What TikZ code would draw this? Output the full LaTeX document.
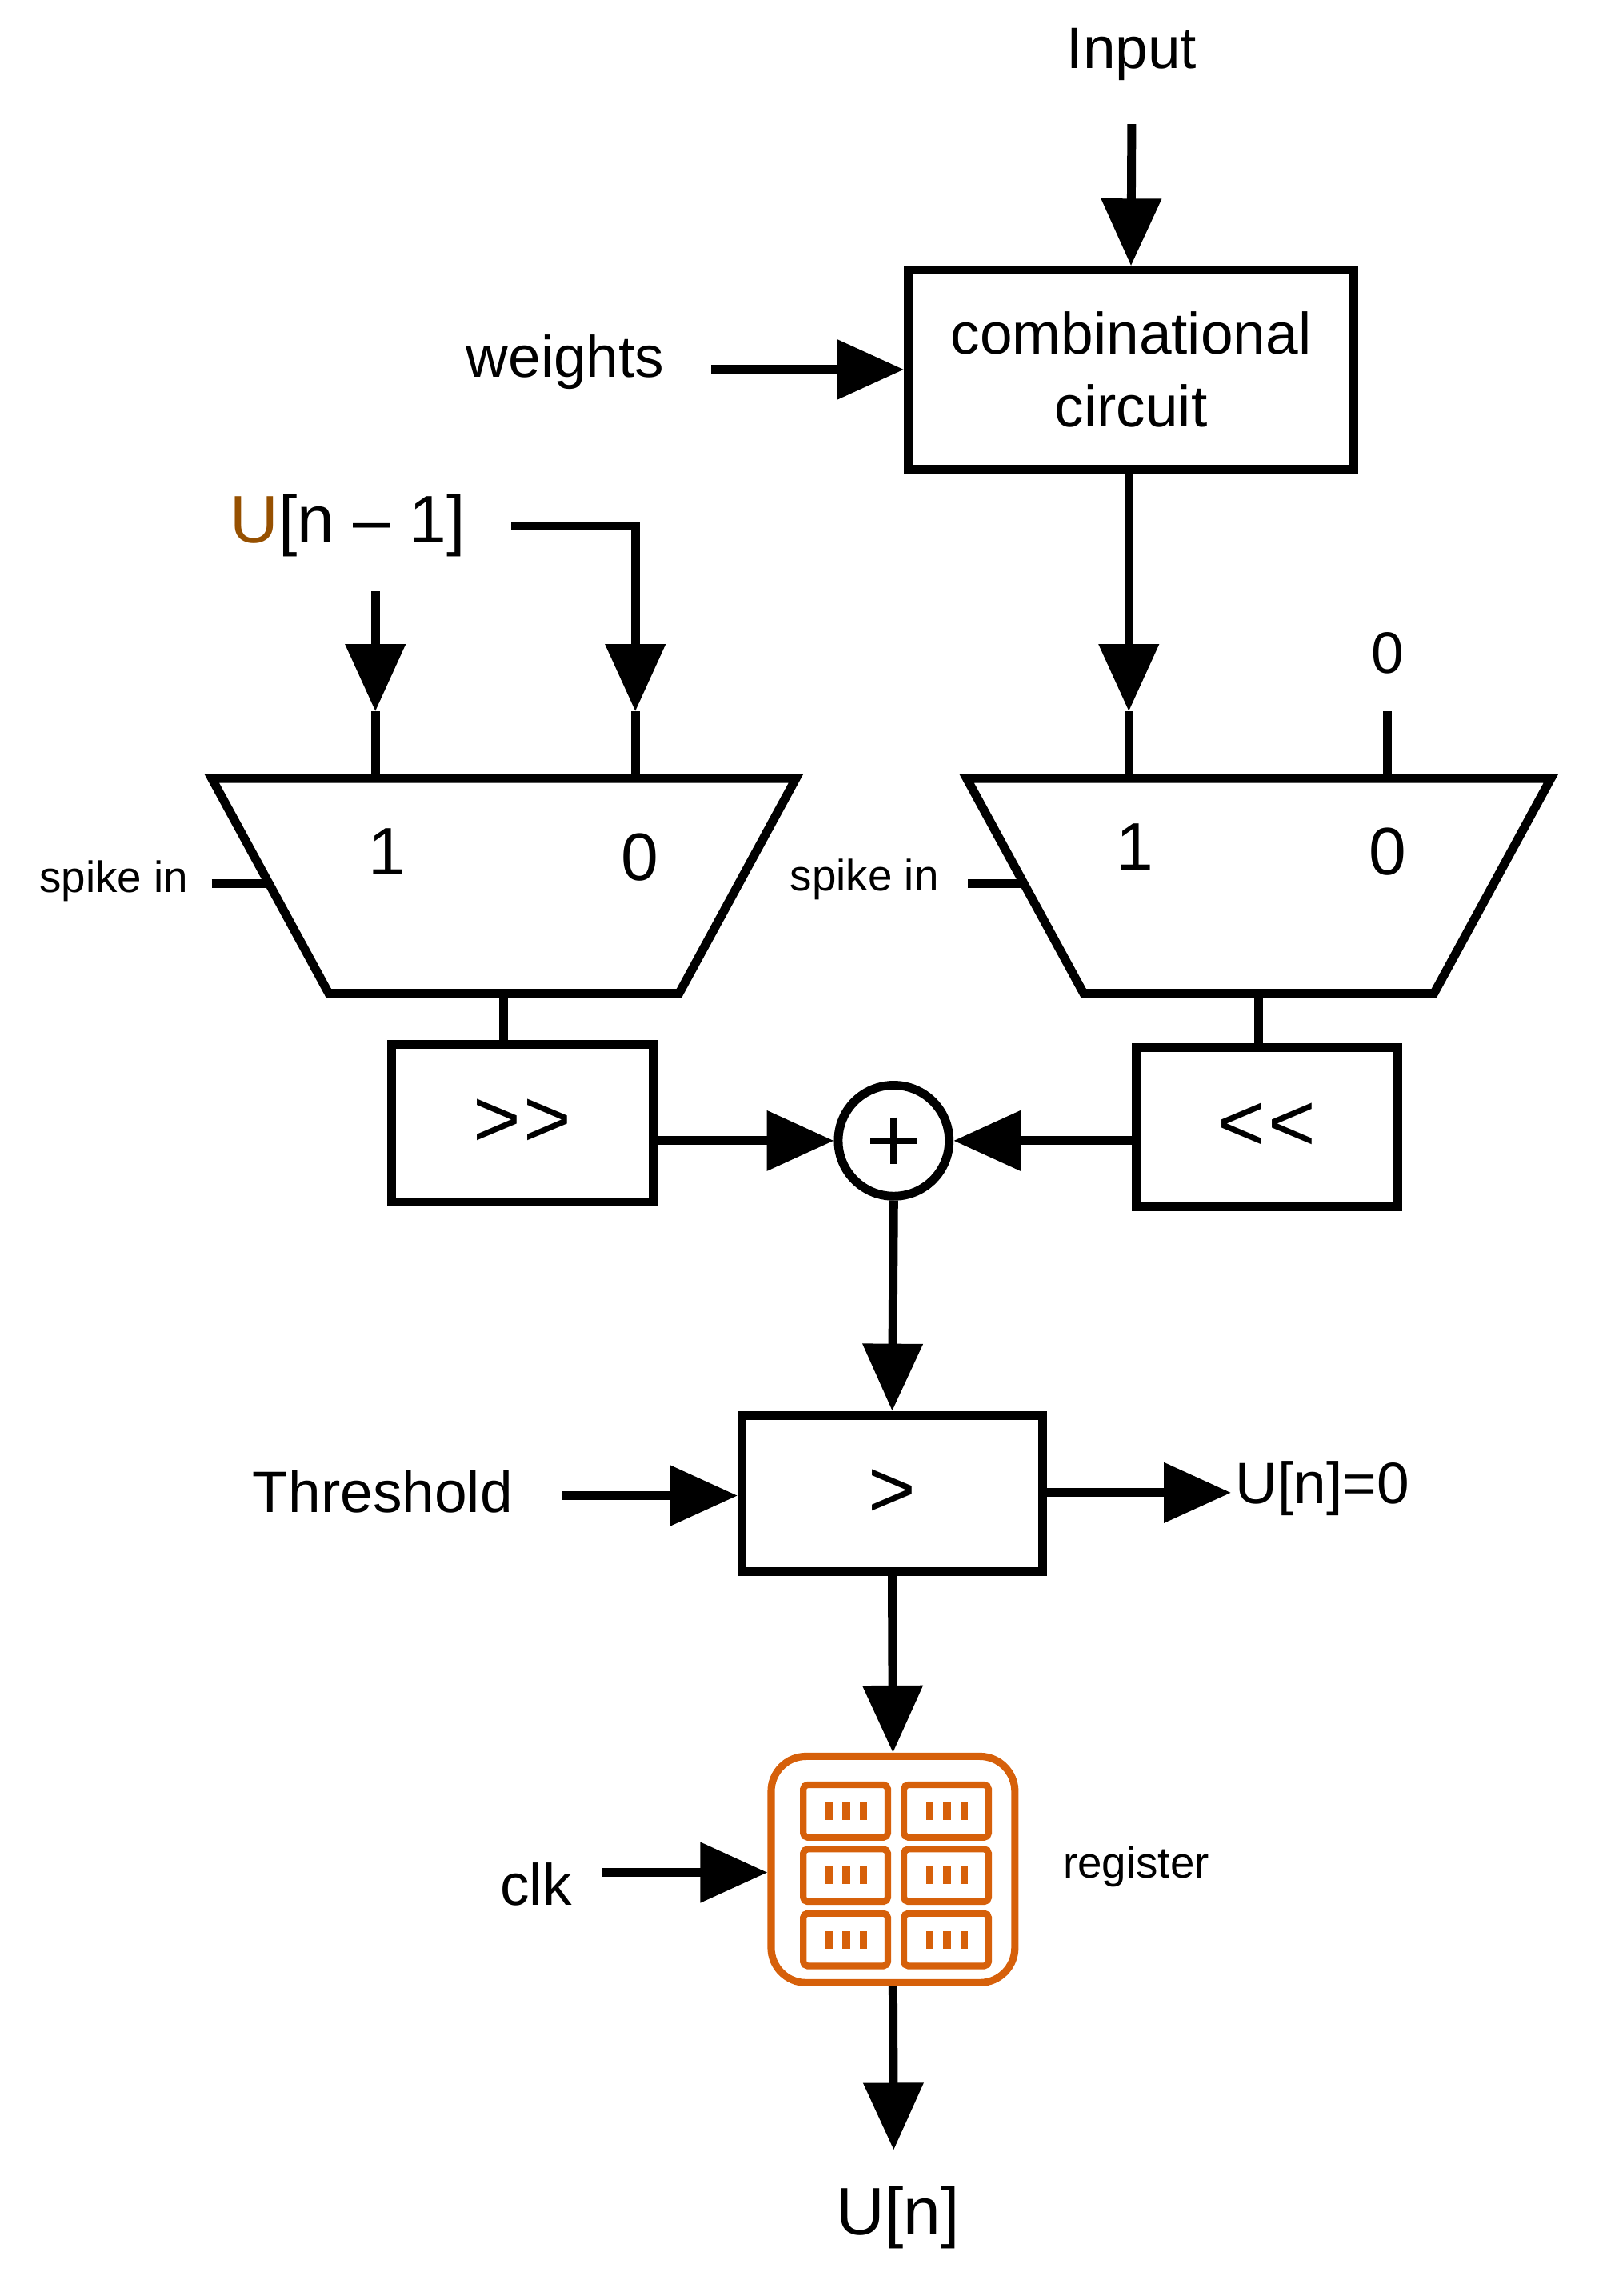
\documentclass[tikz,border=0pt]{standalone}
\usepackage{fontspec}
\setmainfont{Liberation Sans}
\usetikzlibrary{arrows.meta}
\definecolor{regor}{RGB}{214,96,10}
\definecolor{uor}{RGB}{150,80,0}
\begin{document}
\begin{tikzpicture}[x=1pt,y=-1pt,
  line width=6pt,
  arr/.style={-{Triangle[length=46pt,width=40pt]}},
  box/.style={draw,line width=6pt,inner sep=0pt},
  lbl/.style={font=\fontsize{40}{46}\selectfont,inner sep=0pt},
  big/.style={font=\fontsize{46}{50}\selectfont,inner sep=0pt},
  sml/.style={font=\fontsize{30}{34}\selectfont,inner sep=0pt}]
\useasboundingbox (0,0) rectangle (1100,1572);
% top
\node[lbl] (input) at (775,37) {Input};
\coordinate (inS) at (775,85);
\node[box,minimum width=305pt,minimum height=136pt,align=center,font=\fontsize{40}{50}\selectfont] (comb) at (774.5,253) {combinational\\circuit};
\draw[arr] (inS) -- (comb.north);
\node[lbl] (w) at (387,248) {weights};
\coordinate (wS) at (487,253);
\draw[arr] (wS) -- (comb.west |- wS);
% U[n-1]
\node[lbl,font=\fontsize{46}{50}\selectfont] (un1) at (238,360) {\textcolor{uor}{U}[n – 1]};
\coordinate (uS) at (350,360);
\coordinate (uA) at (257,405);
% left mux
\coordinate (L1) at (145,533); \coordinate (L2) at (545,533);
\coordinate (L3) at (465,680); \coordinate (L4) at (225,680);
\draw[line join=miter] (L1) -- (L2) -- (L3) -- (L4) -- cycle;
\coordinate (Li1t) at (257,487); \coordinate (Li0t) at (435,487);
\draw (257,533) -- (Li1t); \draw (435,533) -- (Li0t);
\draw[arr] (uA) -- (Li1t);
\draw[arr] (uS) -| (Li0t);
\node[big] (l1) at (265,583) {1};
\node[big] (l0) at (438,587) {0};
\node[sml] (spL) at (78,603) {spike in};
\draw (145,605) -- (185,605);
% right mux
\coordinate (R1) at (662,533); \coordinate (R2) at (1062,533);
\coordinate (R3) at (982,680); \coordinate (R4) at (742,680);
\draw[line join=miter] (R1) -- (R2) -- (R3) -- (R4) -- cycle;
\coordinate (Ri1t) at (773,487); \coordinate (Ri0t) at (950,487);
\draw (773,533) -- (Ri1t); \draw (950,533) -- (Ri0t);
\draw[arr] (comb.south -| Ri1t) -- (Ri1t);
\node[lbl] (z0) at (950,447) {0};
\node[big] (r1) at (777,580) {1};
\node[big] (r0) at (950,583) {0};
\node[sml] (spR) at (592,602) {spike in};
\draw (663,605) -- (703,605);
% shifters
\node[box,minimum width=179pt,minimum height=108pt,font=\fontsize{56}{56}\selectfont] (shr) at (357.5,769) {>\kern2pt>};
\node[box,minimum width=179pt,minimum height=109pt,font=\fontsize{56}{56}\selectfont] (shl) at (867.5,771.5) {<\kern2pt<};
\draw (345,680) -- (shr.north -| 345,0);
\draw (862,680) -- (shl.north -| 862,0);
\node[draw,circle,line width=6pt,minimum size=76pt,inner sep=0pt] (add) at (612,781) {};
\draw[line width=4.5pt] (596,781) -- (628,781) (612,765) -- (612,797);
\draw[arr] (shr.east |- add) -- (add.west);
\draw[arr] (shl.west |- add) -- (add.east);
% comparator
\node[box,minimum width=206pt,minimum height=107pt,font=\fontsize{56}{56}\selectfont] (cmp) at (611,1022.5) {>};
\draw[arr] (add.south) -- (cmp.north);
\node[lbl] (th) at (262,1021) {Threshold};
\coordinate (thS) at (385,1024);
\draw[arr] (thS) -- (cmp.west |- thS);
\node[lbl,anchor=west] (u0) at (843,1019) {U[n]=0};
\draw[arr] (cmp.east |- 0,1022) -- (u0.west |- 0,1022);
% register
\node[draw=regor,line width=5pt,rounded corners=24pt,minimum width=167pt,minimum height=155pt] (reg) at (611.5,1280) {};
\foreach \cx in {548,617}{
 \foreach \cy in {1220,1264,1308}{
  \draw[regor,line width=4.5pt,rounded corners=3pt] (\cx+2,\cy+2) rectangle (\cx+60,\cy+38);
  \foreach \b in {0,1,2}{
   \fill[regor] (\cx+17+\b*12,\cy+14) rectangle (\cx+22+\b*12,\cy+26);
  }
 }
}
\draw[arr] (cmp.south) -- (reg.north);
\node[sml] (rl) at (778,1278) {register};
\node[lbl] (clk) at (367,1290) {clk};
\coordinate (cS) at (412,1282);
\draw[arr] (cS) -- (reg.west |- cS);
\node[lbl,font=\fontsize{46}{50}\selectfont] (un) at (615,1518) {U[n]};
\draw[arr] (reg.south) -- (612,1472);
\end{tikzpicture}
\end{document}
